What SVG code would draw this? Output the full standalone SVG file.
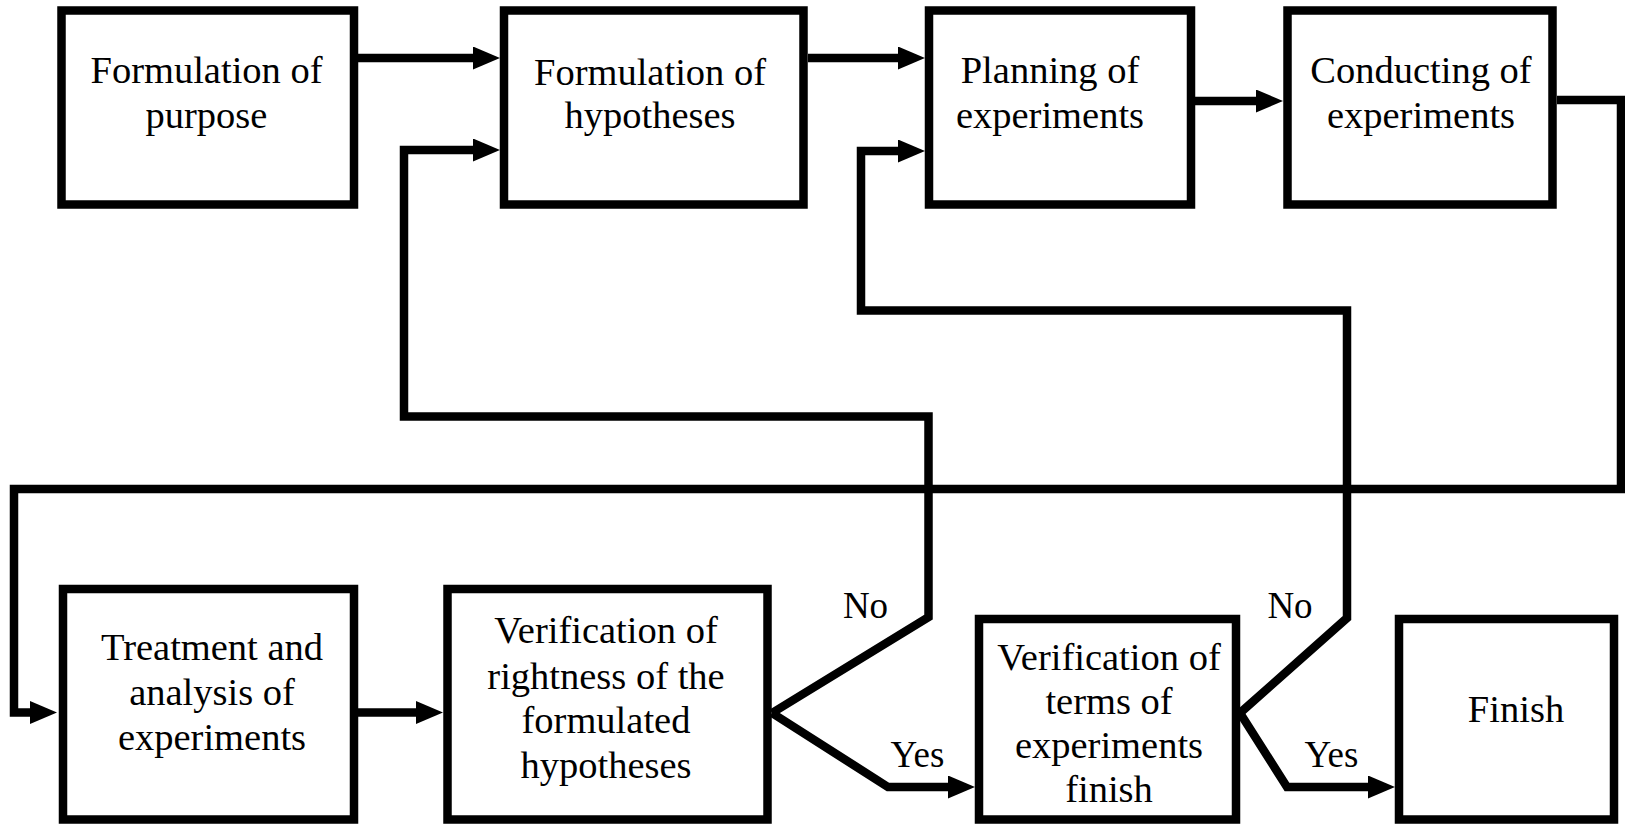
<svg xmlns="http://www.w3.org/2000/svg" width="1625" height="824" viewBox="0 0 1625 824">
<style>
.box{fill:#fff;stroke:#000;stroke-width:8.5}
.t{font-family:'Liberation Serif','Times New Roman',Times,'DejaVu Serif',serif;font-size:38.5px;fill:#000;text-anchor:middle}
.lbl{font-family:'Liberation Serif','Times New Roman',Times,'DejaVu Serif',serif;font-size:37px;fill:#000;text-anchor:middle}
.c{fill:none;stroke:#000;stroke-width:8.5;stroke-linejoin:miter}
</style>
<defs>
<marker id="ah" markerUnits="userSpaceOnUse" markerWidth="28" markerHeight="24" refX="12" refY="11.5" orient="auto">
<path d="M0,0 L27,11.5 L0,23 Z" fill="#000"/>
</marker>
</defs>
<rect width="1625" height="824" fill="#fff"/>
<g id="connectors">
<path class="c" d="M358,58 H485" marker-end="url(#ah)"/>
<path class="c" d="M808,58 H910" marker-end="url(#ah)"/>
<path class="c" d="M1195,101 H1268" marker-end="url(#ah)"/>
<path class="c" d="M1557,100 H1621 V489 H14 V712.5 H42" marker-end="url(#ah)"/>
<path class="c" d="M358,712.5 H428" marker-end="url(#ah)"/>
<path class="c" d="M772,713 L928.5,617 V416.5 H404 V150 H485" marker-end="url(#ah)"/>
<path class="c" d="M772,713 L888,787 H960" marker-end="url(#ah)"/>
<path class="c" d="M1240,713 L1347,618 V310.5 H861 V151 H910" marker-end="url(#ah)"/>
<path class="c" d="M1240,713 L1287,787 H1380" marker-end="url(#ah)"/>
<text class="lbl" x="865.5" y="618" font-family="Liberation Serif, serif">No</text>
<text class="lbl" x="1290" y="618" font-family="Liberation Serif, serif">No</text>
<text class="lbl" x="917.5" y="767" font-family="Liberation Serif, serif">Yes</text>
<text class="lbl" x="1331.5" y="767" font-family="Liberation Serif, serif">Yes</text>
</g>
<g id="n1">
<rect class="box" x="61.5" y="10.5" width="292.5" height="194"/>
<text class="t" x="206.5" y="83">Formulation of</text>
<text class="t" x="206.5" y="128">purpose</text>
</g>
<g id="n2">
<rect class="box" x="504" y="10.5" width="299.5" height="194"/>
<text class="t" x="650" y="85">Formulation of</text>
<text class="t" x="650" y="128">hypotheses</text>
</g>
<g id="n3">
<rect class="box" x="929" y="10.5" width="262" height="194"/>
<text class="t" x="1050" y="83">Planning of</text>
<text class="t" x="1050" y="128">experiments</text>
</g>
<g id="n4">
<rect class="box" x="1287.5" y="10.5" width="265" height="194"/>
<text class="t" x="1421" y="83">Conducting of</text>
<text class="t" x="1421" y="128">experiments</text>
</g>
<g id="n5">
<rect class="box" x="63" y="589" width="291" height="230.5"/>
<text class="t" x="212" y="660">Treatment and</text>
<text class="t" x="212" y="705">analysis of</text>
<text class="t" x="212" y="750">experiments</text>
</g>
<g id="n6">
<rect class="box" x="447.5" y="589" width="320" height="230.5"/>
<text class="t" x="606" y="643">Verification of</text>
<text class="t" x="606" y="689">rightness of the</text>
<text class="t" x="606" y="733">formulated</text>
<text class="t" x="606" y="778">hypotheses</text>
</g>
<g id="n7">
<rect class="box" x="979" y="619" width="257" height="200.5"/>
<text class="t" x="1109" y="670">Verification of</text>
<text class="t" x="1109" y="714">terms of</text>
<text class="t" x="1109" y="758">experiments</text>
<text class="t" x="1109" y="802">finish</text>
</g>
<g id="n8">
<rect class="box" x="1399" y="619" width="215" height="200.5"/>
<text class="t" x="1516" y="722">Finish</text>
</g>
</svg>
